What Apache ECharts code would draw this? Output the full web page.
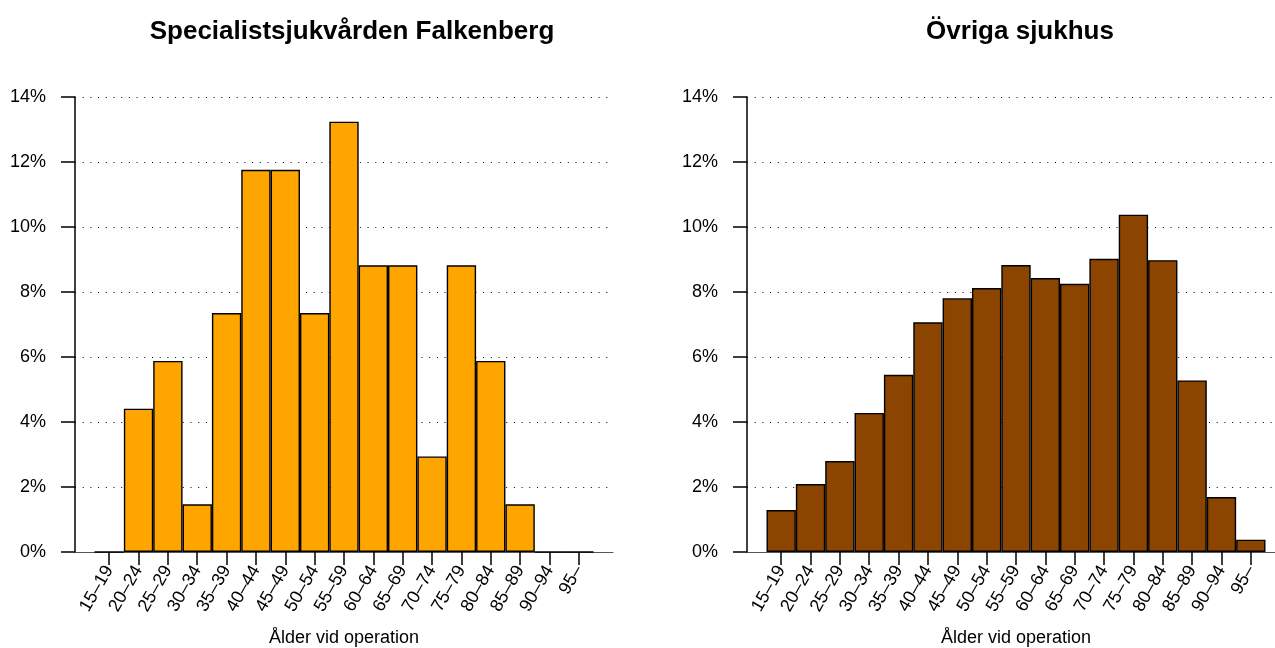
<!DOCTYPE html>
<html>
<head>
<meta charset="utf-8">
<script src="https://cdn.jsdelivr.net/npm/echarts@6/dist/echarts.min.js"></script>
<style>html,body{margin:0;padding:0;background:#fff}#c{width:1275px;height:648px}</style>
</head>
<body>
<div id="c"></div>
<script>
const categories = ['15–19','20–24','25–29','30–34','35–39','40–44','45–49','50–54','55–59','60–64','65–69','70–74','75–79','80–84','85–89','90–94','95–'];
const falkenberg = [0, 4.41, 5.88, 1.47, 7.35, 11.76, 11.76, 7.35, 13.24, 8.82, 8.82, 2.94, 8.82, 5.88, 1.47, 0, 0];
const ovriga = [1.29, 2.09, 2.8, 4.28, 5.45, 7.07, 7.81, 8.12, 8.83, 8.43, 8.25, 9.02, 10.38, 8.98, 5.28, 1.69, 0.38];
const yTicks = [0, 2, 4, 6, 8, 10, 12, 14];
const titles = ['Specialistsjukvården Falkenberg', 'Övriga sjukhus'];
const xTitle = 'Ålder vid operation';

const FONT = 'Liberation Sans, Arial, Helvetica, sans-serif';
const chart = echarts.init(document.getElementById('c'));
const plotTop = 97, plotH = 455;
const panels = [
  {frameLeft: 75, barLeft: 94.5, color: '#FFA500', data: falkenberg, cx: 347},
  {frameLeft: 747, barLeft: 766.5, color: '#8B4500', data: ovriga, cx: 1015}
];
const grid = [], xAxis = [], yAxis = [], series = [], title = [];
panels.forEach((p, i) => {
  grid.push({left: p.frameLeft, top: plotTop, width: 538, height: plotH, outerBoundsMode: 'none', containLabel: false});
  grid.push({left: p.barLeft, top: plotTop, width: 499, height: plotH, outerBoundsMode: 'none', containLabel: false});
  const gf = i * 2, gb = i * 2 + 1;
  xAxis.push({type: 'value', gridIndex: gf, min: 0, max: 1,
    axisLine: {show: true, lineStyle: {color: '#555', width: 1}},
    axisTick: {show: false}, axisLabel: {show: false}, splitLine: {show: false}});
  xAxis.push({type: 'category', gridIndex: gb, data: categories, boundaryGap: true,
    axisLine: {show: true, lineStyle: {color: 'rgba(0,0,0,0)'}},
    axisTick: {show: true, alignWithLabel: true, length: 13, lineStyle: {color: '#000', width: 1.5}},
    axisLabel: {rotate: 60, interval: 0, margin: 15, color: '#000', fontSize: 18, fontFamily: FONT},
    name: xTitle, nameLocation: 'middle', nameGap: 77, nameMoveOverlap: false,
    nameTextStyle: {color: '#000', fontSize: 18, fontFamily: FONT}});
  yAxis.push({type: 'value', gridIndex: gf, min: yTicks[0], max: yTicks[yTicks.length - 1], interval: 2,
    axisLine: {show: true, lineStyle: {color: '#000', width: 1.5}},
    axisTick: {show: true, length: 14, lineStyle: {color: '#000', width: 1.5}},
    axisLabel: {formatter: '{value}%', margin: 29, color: '#000', fontSize: 18, fontFamily: FONT},
    splitLine: {show: true, lineStyle: {color: '#000', width: 1, type: [1, 6.7]}}});
  yAxis.push({type: 'value', gridIndex: gb, min: 0, max: 14, show: false});
  series.push({type: 'bar', xAxisIndex: gb, yAxisIndex: gb, data: p.data,
    barCategoryGap: 0, barGap: 0, silent: true,
    itemStyle: {color: p.color, borderColor: '#000', borderWidth: 1.4}});
  title.push({text: titles[i], left: p.cx, top: 14, textAlign: 'center',
    textStyle: {color: '#000', fontSize: 26, fontWeight: 'bold', fontFamily: FONT}});
});
chart.setOption({animation: false, backgroundColor: '#fff', title, grid, xAxis, yAxis, series});
</script>
</body>
</html>
